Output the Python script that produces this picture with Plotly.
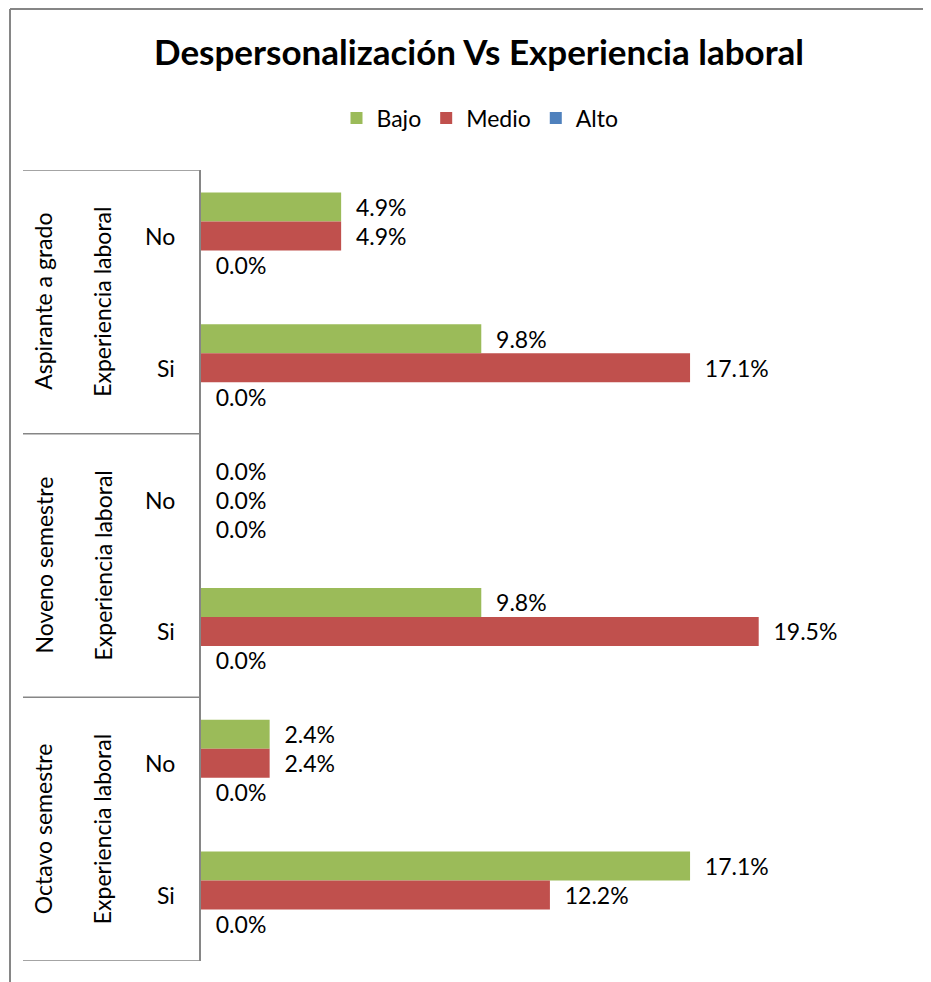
import plotly.graph_objects as go

# Data
groups = ["Aspirante a grado", "Noveno semestre", "Octavo semestre"]
middle_label = "Experiencia laboral"
answers = ["No", "Si"]

bajo = [4.9, 9.8, 0.0, 9.8, 2.4, 17.1]
medio = [4.9, 17.1, 0.0, 19.5, 2.4, 12.2]
alto = [0.0, 0.0, 0.0, 0.0, 0.0, 0.0]

series_names = ["Bajo", "Medio", "Alto"]
series_colors = ["#9BBB59", "#C0504D", "#4F81BD"]

FONT = "Lato, 'Open Sans', sans-serif"

# One category per (group, answer) pair, top to bottom
categories = [f"{g} - {a}" for g in groups for a in answers]

W, H = 931, 982
OFF = 8  # page body margin shifts the figure by this much
L, T = 201 - OFF, 170 - OFF
PLOT_R, PLOT_B = 916 - OFF, 961 - OFF
R, B = W - PLOT_R, H - PLOT_B
PW, PH = PLOT_R - L, PLOT_B - T


def px_x(px):
    # reference pixel -> paper x
    return (px - OFF - L) / PW


def px_y(py):
    # reference pixel -> paper y
    return (PLOT_B - (py - OFF)) / PH


fig = go.Figure()

for name, vals, color in zip(series_names, [bajo, medio, alto], series_colors):
    fig.add_trace(go.Bar(
        name=name,
        x=vals,
        y=categories,
        orientation="h",
        marker=dict(color=color, line=dict(width=0)),
        texttemplate="\u00a0\u00a0%{x:.1f}%",
        textposition="outside",
        textfont=dict(family=FONT, size=23, color="black"),
        constraintext="none",
        cliponaxis=False,
        hoverinfo="x+y",
    ))

annotations = []
shapes = []

# Category table on the left
for gi, g in enumerate(groups):
    center = gi * 2 + 0.5
    annotations.append(dict(
        x=px_x(43), xref="paper", y=center, yref="y",
        text=g, textangle=-90, showarrow=False,
        xanchor="center", yanchor="middle",
        font=dict(family=FONT, size=23, color="black"),
    ))
    annotations.append(dict(
        x=px_x(102), xref="paper", y=center, yref="y",
        text=middle_label, textangle=-90, showarrow=False,
        xanchor="center", yanchor="middle",
        font=dict(family=FONT, size=23, color="black"),
    ))
    for ai, a in enumerate(answers):
        annotations.append(dict(
            x=px_x(177), xref="paper", y=categories[gi * 2 + ai], yref="y",
            text=a, xanchor="right", yanchor="middle", showarrow=False,
            font=dict(family=FONT, size=23, color="black"),
        ))

for k in range(len(groups) + 1):
    shapes.append(dict(
        type="line", xref="paper", yref="y",
        x0=px_x(23), x1=0, y0=k * 2 - 0.5, y1=k * 2 - 0.5,
        line=dict(color="#868686", width=1.5),
    ))

# Outer chart border (the picture is cropped at right/bottom)
bx, by = px_x(10), px_y(9)
shapes.append(dict(type="line", xref="paper", yref="paper",
                   x0=bx, x1=bx, y0=-0.2, y1=by,
                   line=dict(color="#868686", width=2)))
shapes.append(dict(type="line", xref="paper", yref="paper",
                   x0=bx, x1=1.2, y0=by, y1=by,
                   line=dict(color="#868686", width=2)))

fig.update_layout(
    width=W, height=H,
    margin=dict(l=L, r=R, t=T, b=B),
    paper_bgcolor="white",
    plot_bgcolor="white",
    barmode="group",
    bargap=0.34,
    bargroupgap=0,
    title=dict(
        text="<b>Despersonalización Vs Experiencia laboral</b>",
        x=(479 - OFF) / W, xref="container", xanchor="center",
        y=1 - (53 - OFF) / H, yref="container", yanchor="middle",
        font=dict(family=FONT, size=35, color="black"),
    ),
    legend=dict(
        orientation="h",
        x=px_x(480), xanchor="center",
        y=px_y(118), yanchor="middle",
        font=dict(family=FONT, size=23, color="black"),
        itemwidth=30,
        bgcolor="rgba(0,0,0,0)",
    ),
    xaxis=dict(
        range=[0, 25],
        showticklabels=False, showgrid=False, zeroline=False, showline=False,
    ),
    yaxis=dict(
        categoryorder="array", categoryarray=categories,
        range=[5.5, -0.5],
        showticklabels=False, showgrid=False, zeroline=False,
        showline=True, linecolor="#868686", linewidth=1.5,
        ticks="",
    ),
    annotations=annotations,
    shapes=shapes,
    showlegend=True,
)

fig.write_html("out.html")
